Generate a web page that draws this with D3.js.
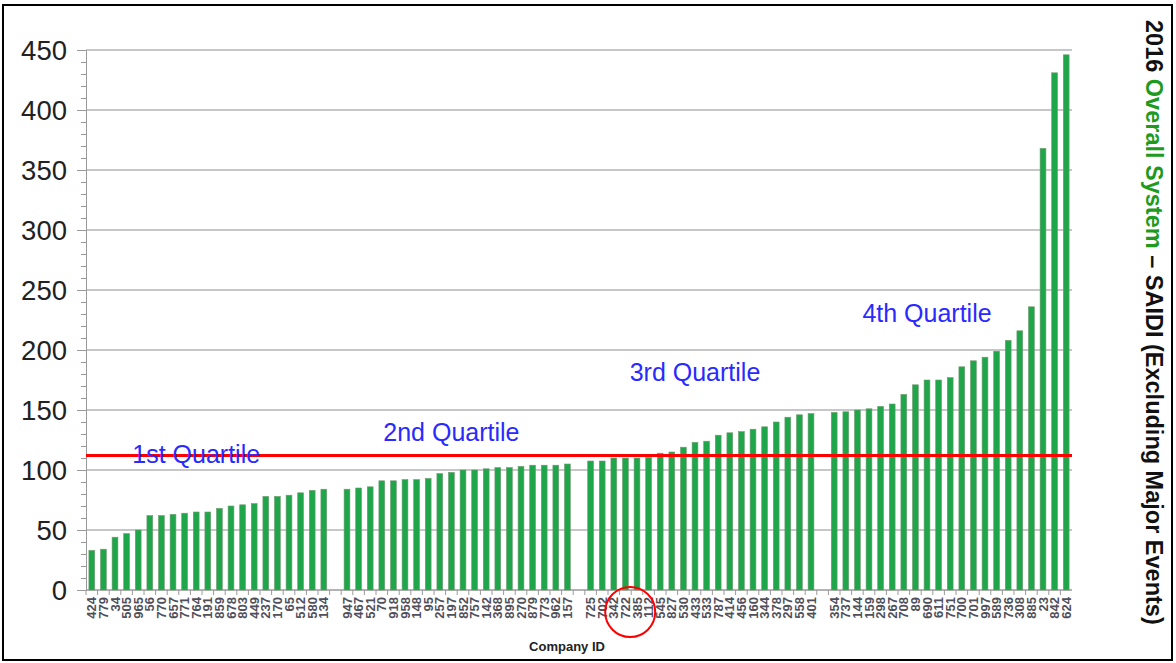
<!DOCTYPE html>
<html lang="en">
<head>
<meta charset="UTF-8">
<title>SAIDI 2016</title>
<script src="https://d3js.org/d3.v7.min.js"></script>
<style>
  body { margin: 0; background: #fff; }
  text { font-family: Arial, "Liberation Sans", sans-serif; }
</style>
</head>
<body>
<div id="fig"></div>
<script>
// company ids and SAIDI values, one pair of arrays per quartile
let q1Ids = ["424","779","34","505","965","56","770","657","771","764","191","859","678","803","449","237","170","65","512","580","134"];
let q1Vals = [33,34,44,47,50,62,62,63,64,65,65,68,70,71,72,78,78,79,81,83,84];
let q2Ids = ["947","467","521","70","918","958","148","95","257","197","852","757","142","368","895","270","879","773","962","157"];
let q2Vals = [84,85,86,91,91,92,92,93,97,98,100,100,101,102,102,103,104,104,104,105];
let q3Ids = ["725","702","342","722","385","112","545","827","530","433","533","787","414","456","160","344","378","297","558","401"];
let q3Vals = [107.5,107.5,110,110,110,110.5,114,115,119,123,124,129,131,132,134,136,140,144,146,147];
let q4Ids = ["354","737","144","159","298","267","708","89","690","611","751","700","701","997","589","736","308","885","23","842","624"];
let q4Vals = [148,148.5,150,151,153,155,163,171,175,175,177,186,191,194,199,208,216,236,368,431,446];

let threshold = 112;
let yTicks = [0,50,100,150,200,250,300,350,400,450];
// label, anchor company id, value at baseline
let quartileLabels = [["1st Quartile","764",106],["2nd Quartile","197",124],["3rd Quartile","433",174],["4th Quartile","690",223]];
let circledIds = ["722","385"];

let W = 1176, H = 663;
let svg = d3.select("#fig").append("svg").attr("width", W).attr("height", H);

// build slot list with one empty slot between quartiles
let groups = [[q1Ids,q1Vals],[q2Ids,q2Vals],[q3Ids,q3Vals],[q4Ids,q4Vals]];
let slots = [], bars = [];
groups.forEach(function (g, gi) {
    if (gi > 0) slots.push("gap" + gi);
    g[0].forEach(function (id, i) {
        slots.push(id);
        bars.push({id: id, v: g[1][i]});
    });
});

let x = d3.scaleBand().domain(slots).range([86, 1072]).paddingInner(0.5).paddingOuter(0.25);
let y = d3.scaleLinear().domain([0, 450]).range([590, 50]);

// frame
svg.append("rect").attr("x", 3).attr("y", 5).attr("width", 1169).attr("height", 655)
    .attr("fill", "none").attr("stroke", "#000").attr("stroke-width", 2);

// grid
svg.append("g").selectAll("line").data(yTicks.filter(d => d > 0)).join("line")
    .attr("x1", 86).attr("x2", 1072).attr("y1", d => y(d)).attr("y2", d => y(d))
    .attr("stroke", "#b4b4b4").attr("stroke-width", 1.3);

// y axis
let yAxis = svg.append("g").attr("transform", "translate(86,0)")
    .call(d3.axisLeft(y).tickValues(d3.range(0, 451, 10)).tickSize(5).tickFormat(""));
yAxis.select(".domain").attr("stroke", "#9a9a9a");
yAxis.selectAll(".tick line").attr("stroke", "#9a9a9a")
    .attr("x2", d => d % 50 === 0 ? -9 : -5);
svg.append("g").selectAll("text").data(yTicks).join("text")
    .attr("x", 67).attr("y", d => y(d)).attr("dy", "0.36em")
    .attr("text-anchor", "end").attr("font-size", 27.5).attr("fill", "#222")
    .text(d => d);

// x axis
svg.append("line").attr("x1", 86).attr("x2", 1072).attr("y1", 590).attr("y2", 590)
    .attr("stroke", "#9a9a9a").attr("stroke-width", 1.3);
let step = x.step();
svg.append("g").selectAll("line").data(slots).join("line")
    .attr("x1", d => x(d) - step * 0.25).attr("x2", d => x(d) - step * 0.25)
    .attr("y1", 590).attr("y2", 595).attr("stroke", "#9a9a9a");

// bars
svg.append("g").selectAll("rect").data(bars).join("rect")
    .attr("x", d => x(d.id)).attr("width", x.bandwidth())
    .attr("y", d => y(d.v)).attr("height", d => y(0) - y(d.v))
    .attr("fill", "#1fa64b").attr("stroke", "#6f9a6f").attr("stroke-width", 0.6);

// company id labels
svg.append("g").selectAll("text").data(bars).join("text")
    .attr("transform", d => `translate(${x(d.id) + x.bandwidth() / 2},597) rotate(-90)`)
    .attr("text-anchor", "end").attr("dy", "0.36em")
    .attr("font-size", 13).attr("font-weight", "bold").attr("fill", "#50505a")
    .text(d => d.id);

svg.append("text").attr("x", 567).attr("y", 651).attr("text-anchor", "middle")
    .attr("font-size", 13).attr("font-weight", "bold").attr("fill", "#222")
    .text("Company ID");

// threshold line
svg.append("line").attr("x1", 86).attr("x2", 1072)
    .attr("y1", y(threshold)).attr("y2", y(threshold))
    .attr("stroke", "#ff0000").attr("stroke-width", 3);

// quartile labels
svg.append("g").selectAll("text").data(quartileLabels).join("text")
    .attr("x", d => x(d[1]) + x.bandwidth() / 2).attr("y", d => y(d[2]))
    .attr("text-anchor", "middle").attr("font-size", 25).attr("fill", "#2a2aff")
    .text(d => d[0]);

// highlight circle
let cx = (x(circledIds[0]) + x(circledIds[1])) / 2 + x.bandwidth() / 2;
svg.append("circle").attr("cx", cx - 1).attr("cy", 612).attr("r", 25)
    .attr("fill", "none").attr("stroke", "#ff0000").attr("stroke-width", 2);

// right side title
let title = svg.append("text").attr("transform", "translate(1146,20) rotate(90)")
    .attr("font-size", 23.5).attr("font-weight", "bold").attr("fill", "#111");
title.append("tspan").text("2016 ");
title.append("tspan").attr("fill", "#1e9a1e").text("Overall System");
title.append("tspan").text(" \u2013 SAIDI (Excluding Major Events)");
</script>
</body>
</html>
